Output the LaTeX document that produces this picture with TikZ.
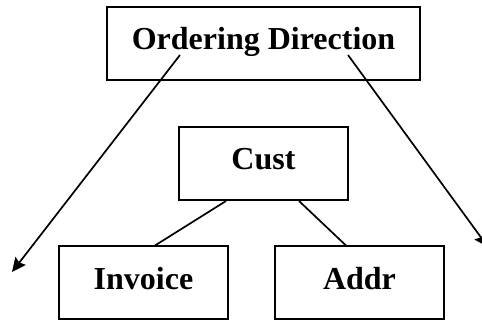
\documentclass[tikz,border=0pt]{standalone}
\usepackage{fontspec}
\setmainfont{Liberation Serif}
\usetikzlibrary{arrows.meta}
\begin{document}
\begin{tikzpicture}[x=1pt,y=-1pt,
  box/.style={draw,line width=2pt,inner sep=0pt,minimum height=73pt,
    text height=21pt,text depth=8pt,font=\fontsize{32}{36}\selectfont\bfseries},
  conn/.style={line width=1.7pt},
  arr/.style={line width=1.7pt,-{Stealth[length=14pt,width=13pt,inset=2pt]}}]
\useasboundingbox (0,0) rectangle (482,320);
\clip (0,0) rectangle (482,320);
\node[box,minimum width=313pt] (od) at (263.5,43.5) {Ordering Direction};
\node[box,minimum width=169pt] (cust) at (263.5,163.5) {Cust};
\node[box,minimum width=169pt] (inv) at (143.5,283) {Invoice};
\node[box,minimum width=169pt] (addr) at (359.5,283) {Addr};
\coordinate (s1) at (180,55);
\coordinate (e1) at (12,272);
\coordinate (s2) at (348,55);
\coordinate (e2) at (488,247);
\draw[arr] (s1) -- (e1);
\draw[arr] (s2) -- (e2);
\draw[conn] ([xshift=48pt]cust.south west) -- ([xshift=97pt]inv.north west);
\draw[conn] ([xshift=121pt]cust.south west) -- ([xshift=72pt]addr.north west);
\end{tikzpicture}
\end{document}
